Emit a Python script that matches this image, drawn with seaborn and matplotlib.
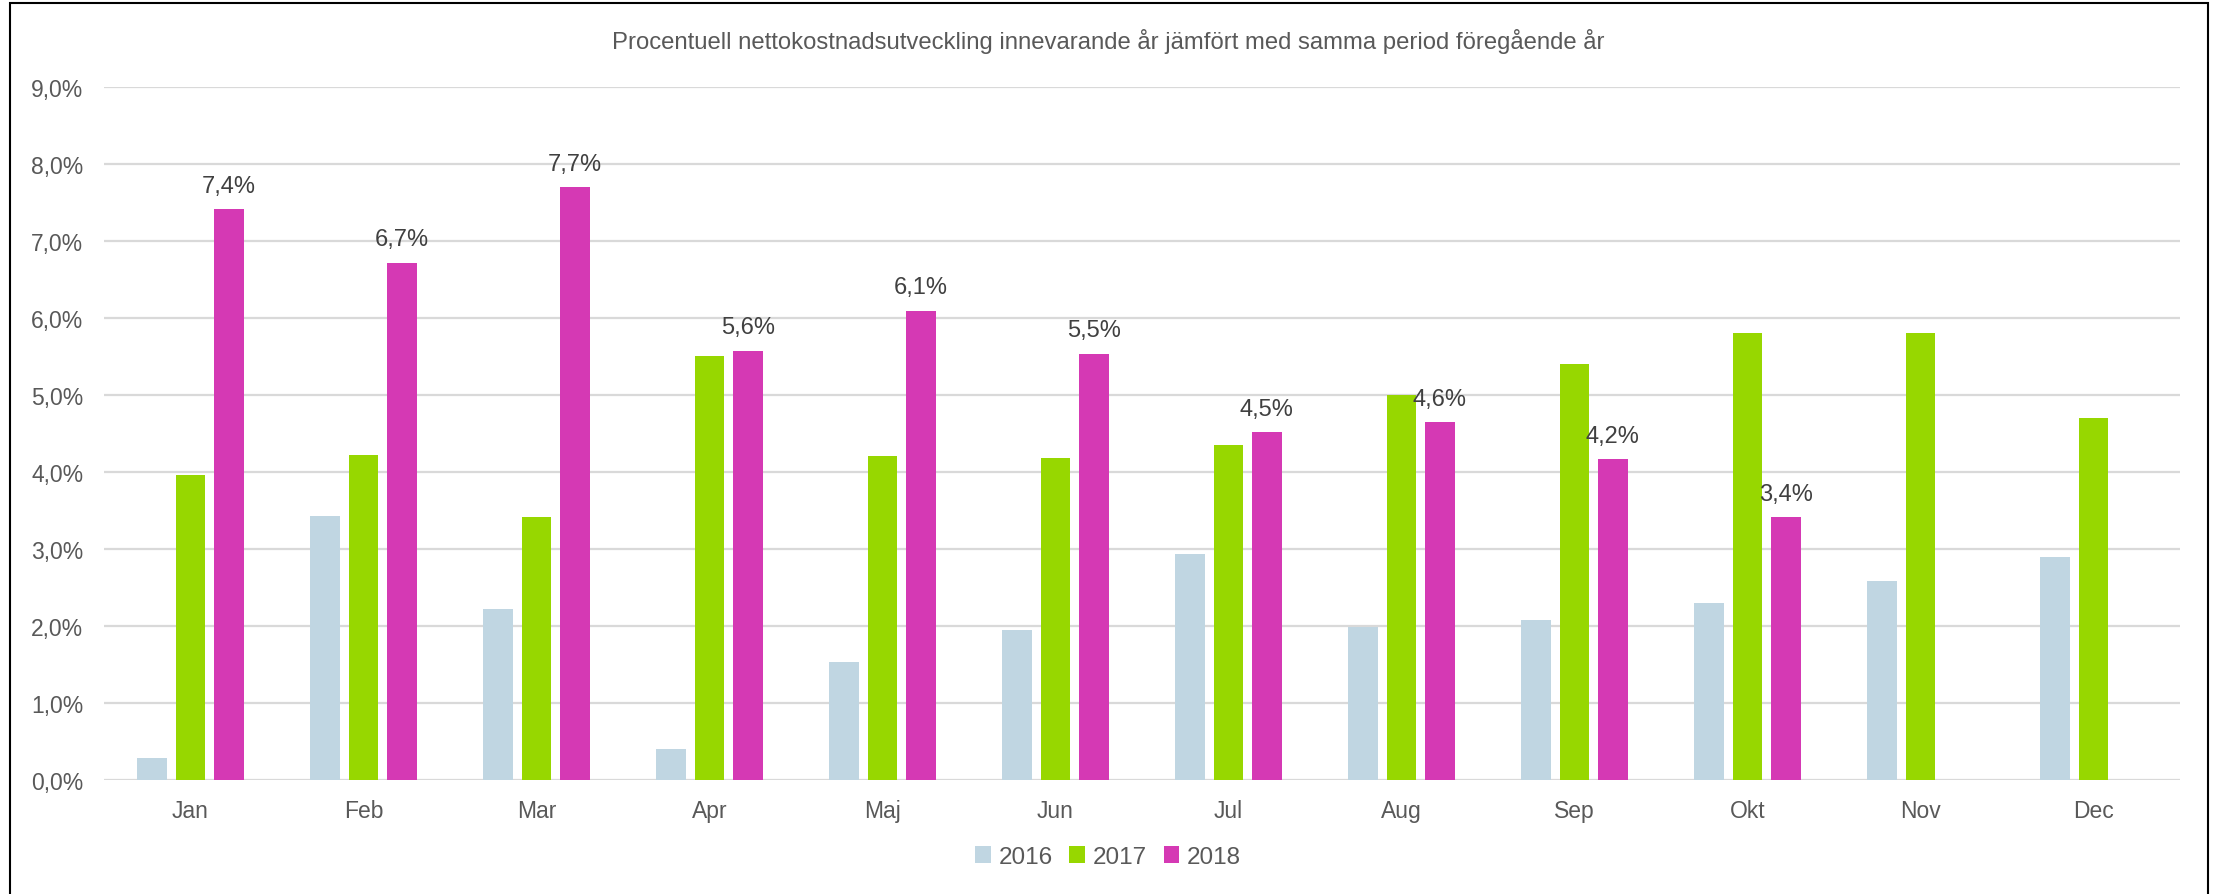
import numpy as np
import pandas as pd
import matplotlib
matplotlib.use("Agg")
import matplotlib.pyplot as plt
import seaborn as sns
from matplotlib.patches import Rectangle, Patch
from matplotlib.ticker import FuncFormatter, MultipleLocator

months = ["Jan", "Feb", "Mar", "Apr", "Maj", "Jun", "Jul", "Aug", "Sep", "Okt", "Nov", "Dec"]
years = ["2016", "2017", "2018"]
v2016 = [0.28, 3.43, 2.22, 0.40, 1.53, 1.95, 2.93, 1.98, 2.08, 2.30, 2.58, 2.90]
v2017 = [3.96, 4.22, 3.41, 5.50, 4.20, 4.18, 4.35, 5.00, 5.40, 5.80, 5.80, 4.70]
v2018 = [7.41, 6.71, 7.69, 5.57, 6.09, 5.53, 4.51, 4.64, 4.16, 3.41, np.nan, np.nan]
title = "Procentuell nettokostnadsutveckling innevarande år jämfört med samma period föregående år"
colors = ["#C0D6E2", "#97D700", "#D539B4"]

df = pd.DataFrame({
    "Månad": months * 3,
    "År": [y for y in years for _ in months],
    "Värde": v2016 + v2017 + v2018,
})

sns.set_theme(style="white")
plt.rcParams["font.family"] = ["Liberation Sans", "DejaVu Sans"]
txt = "#595959"

fig = plt.figure(figsize=(22.16, 8.95), dpi=100)
ax = fig.add_axes([104 / 2216, 0.1274, 2076 / 2216, 0.7748])

sns.barplot(data=df, x="Månad", y="Värde", hue="År", order=months, hue_order=years,
            palette=colors, width=0.663, gap=0.22, errorbar=None, ax=ax,
            legend=False, linewidth=0, saturation=1)

ax.set_ylim(0, 9)
ax.set_xlim(-0.5, 11.5)
ax.yaxis.set_major_locator(MultipleLocator(1))
ax.yaxis.set_major_formatter(FuncFormatter(lambda v, p: f"{v:.1f}%".replace(".", ",")))
ax.grid(axis="y", color="#D9D9D9", linewidth=1.6)
ax.set_axisbelow(True)
for s in ax.spines.values():
    s.set_visible(False)
ax.tick_params(axis="x", length=0, labelsize=16.5, colors=txt, pad=14)
ax.tick_params(axis="y", length=0, labelsize=16.5, colors=txt, pad=15)
ax.set_xlabel("")
ax.set_ylabel("")

c2018 = ax.containers[2]
labels = ["" if np.isnan(h) else f"{h:.1f}%".replace(".", ",") for h in c2018.datavalues]
ax.bar_label(c2018, labels=labels, padding=9, fontsize=17, color="#404040")

fig.text(0.5, 1 - 41 / 895, title, ha="center", va="center", fontsize=17.2, color=txt)

handles = [Patch(facecolor=c, edgecolor="none") for c in colors]
fig.legend(handles, years, loc="center", bbox_to_anchor=(0.5, 1 - 858 / 895), ncol=3,
           frameon=False, fontsize=17.5, handlelength=0.65, handleheight=0.65,
           handletextpad=0.3, columnspacing=0.7, labelcolor=txt)

fig.patches.append(Rectangle((10 / 2216, -0.05), (2208 - 10) / 2216, 1 - 4 / 895 + 0.05,
                             transform=fig.transFigure, fill=False, edgecolor="black",
                             linewidth=1.5))

fig.savefig("out.png", dpi=100)
